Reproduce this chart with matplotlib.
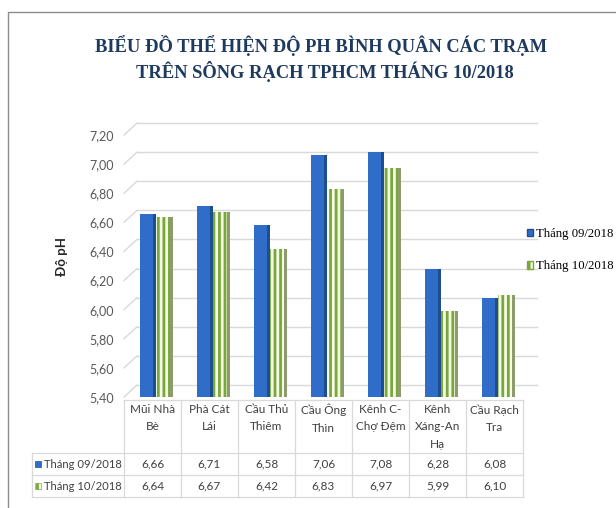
import numpy as np
import matplotlib.pyplot as plt
import matplotlib.transforms as mtransforms
from matplotlib.patches import Rectangle, Patch

plt.rcParams['font.family'] = ['Lato', 'DejaVu Sans']
plt.rcParams['hatch.linewidth'] = 2.0

stations = ['Mũi Nhà\nBè', 'Phà Cát\nLái', 'Cầu Thủ\nThiêm', 'Cầu Ông\nThìn',
            'Kênh C-\nChợ Đệm', 'Kênh\nXáng-An\nHạ', 'Cầu Rạch\nTra']
series_names = ['Tháng 09/2018', 'Tháng 10/2018']
ph_sep = [6.66, 6.71, 6.58, 7.06, 7.08, 6.28, 6.08]
ph_oct = [6.64, 6.67, 6.42, 6.83, 6.97, 5.99, 6.10]
yticks = [5.4, 5.6, 5.8, 6.0, 6.2, 6.4, 6.6, 6.8, 7.0, 7.2]

BLUE = '#2F6DC8'
BLUE_DARK = '#1F4E8E'
GREEN = '#78A83C'
CREAM = '#F6F9E6'
SIDE = '#8E9B6C'
GRID = '#D9D9D9'
TXT = '#404040'

W, H = 616, 508
fig = plt.figure(figsize=(6.16, 5.08), dpi=100)

# outer frame
fig.add_artist(Rectangle((8 / W, -0.2), 1.5, 1.2 - 12 / H, transform=fig.transFigure,
                         fill=False, edgecolor='#8C8C8C', linewidth=1.0))

ax = fig.add_axes([124 / W, 1 - 397 / H, 399 / W, 262 / H])
ax.set_xlim(-0.5, 6.5)
ax.set_ylim(5.4, 7.2)
for s in ax.spines.values():
    s.set_visible(False)
ax.set_xticks([])
ax.set_yticks(yticks)
ax.set_yticklabels([f'{v:.2f}'.replace('.', ',') for v in yticks])
ax.tick_params(axis='y', length=0, pad=7, labelsize=9, labelcolor='#595959')

px_unit = 399 / 7.0


def yfrac(py):
    return (397 - py) / 262.0


def xdat(px):
    return -0.5 + (px - 124) / px_unit


# back-wall gridlines with a short perspective stub
blend = mtransforms.blended_transform_factory(ax.transAxes, ax.transData)
dy = 12 * 1.8 / 262
x0, x1 = 13 / 399, (537 - 124) / 399
for v in yticks:
    ax.plot([x0, x1], [v + dy, v + dy], transform=blend, color=GRID, lw=1.0,
            clip_on=False, zorder=0)
    ax.plot([0, x0], [v, v + dy], transform=blend, color=GRID, lw=1.0,
            clip_on=False, zorder=0)

# bars
x = np.arange(len(stations))
w = 0.29
shift = 0.07
side = 0.055
ax.bar(x - w / 2 + shift, ph_sep, w, color=BLUE, zorder=2, label=series_names[0])
ax.bar(x + shift - side / 2, ph_sep, side, color=BLUE_DARK, zorder=2)
ax.bar(x + w / 2 + shift, ph_oct, w, color=CREAM, edgecolor=GREEN, hatch='|||',
       linewidth=0, zorder=3, label=series_names[1])
ax.bar(x + w + shift - side / 2, ph_oct, side, color=SIDE, zorder=3)

# title
serif = ['Liberation Serif', 'DejaVu Serif']
fig.text(321 / W, 1 - 45 / H, 'BIỂU ĐỒ THỂ HIỆN ĐỘ PH BÌNH QUÂN CÁC TRẠM',
         family=serif, weight='bold', fontsize=13.3,
         color='#1F3A5F', ha='center', va='center')
fig.text(325 / W, 1 - 72 / H, 'TRÊN SÔNG RẠCH TPHCM THÁNG 10/2018',
         family=serif, weight='bold', fontsize=13.3,
         color='#1F3A5F', ha='center', va='center')

# y label
fig.text(62 / W, 1 - 256 / H, 'Độ pH', rotation=90, weight='bold', fontsize=9.5,
         color='#262626', ha='center', va='center')

# legend
handles = [Patch(facecolor=BLUE, edgecolor=BLUE_DARK, label=series_names[0]),
           Patch(facecolor=CREAM, edgecolor=GREEN, hatch='||', label=series_names[1])]
fig.legend(handles=handles, loc='upper left', bbox_to_anchor=(527 / W, 1 - 228 / H),
           frameon=False, borderpad=0, borderaxespad=0, handlelength=0.5,
           handleheight=0.5, handletextpad=0.2, labelspacing=1.6,
           prop={'family': serif, 'size': 9.2})

# data table
bt = mtransforms.blended_transform_factory(ax.transData, ax.transAxes)
xl = xdat(32)
for py in [453, 475, 497]:
    ax.plot([xl, 6.5], [yfrac(py), yfrac(py)], transform=bt, color=GRID, lw=0.9,
            clip_on=False)
ax.plot([-0.5, 6.5], [yfrac(400), yfrac(400)], transform=bt, color=GRID, lw=0.9,
        clip_on=False)
ax.plot([xl, xl], [yfrac(453), yfrac(497)], transform=bt, color=GRID, lw=0.9,
        clip_on=False)
for b in np.arange(-0.5, 7, 1.0):
    ax.plot([b, b], [yfrac(400), yfrac(497)], transform=bt, color=GRID, lw=0.9,
            clip_on=False)

for i, name in enumerate(stations):
    ax.text(i, yfrac(404), name, transform=bt, ha='center', va='top', fontsize=8.5,
            color=TXT, linespacing=1.7)
    ax.text(i, yfrac(464), f'{ph_sep[i]:.2f}'.replace('.', ','), transform=bt,
            ha='center', va='center', fontsize=8.5, color=TXT)
    ax.text(i, yfrac(486), f'{ph_oct[i]:.2f}'.replace('.', ','), transform=bt,
            ha='center', va='center', fontsize=8.5, color=TXT)

ax.text(xdat(44), yfrac(464), series_names[0], transform=bt, ha='left', va='center',
        fontsize=8.1, color=TXT)
ax.text(xdat(44), yfrac(486), series_names[1], transform=bt, ha='left', va='center',
        fontsize=8.1, color=TXT)
fig.add_artist(Rectangle((35 / W, 1 - 467 / H), 6 / W, 6 / H, transform=fig.transFigure,
                         facecolor=BLUE, edgecolor=BLUE_DARK, lw=0.5))
fig.add_artist(Rectangle((35 / W, 1 - 489 / H), 6 / W, 6 / H, transform=fig.transFigure,
                         facecolor=CREAM, edgecolor=GREEN, hatch='||', lw=0.5))

fig.savefig('out.png', dpi=100)
